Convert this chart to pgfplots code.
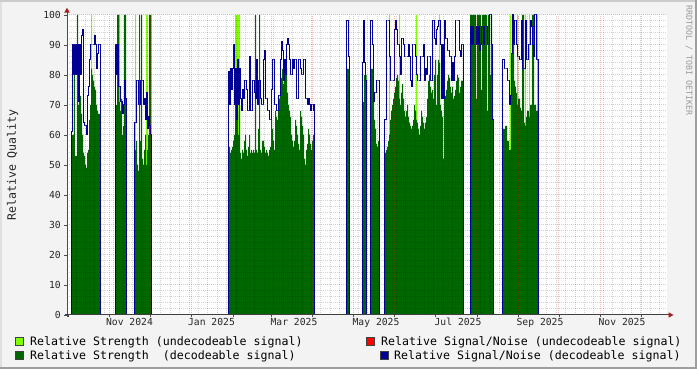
\documentclass[border=0pt]{standalone}
\usepackage{fontspec}
\setmainfont{DejaVu Sans Mono}
\usepackage{pgfplots}
\usepackage{pgfplotstable}
\pgfplotsset{compat=1.18}
\definecolor{lgreen}{RGB}{128,255,0}
\definecolor{dgreen}{RGB}{0,102,0}
\definecolor{snblue}{RGB}{0,0,153}
\definecolor{snred}{RGB}{255,0,0}
\definecolor{bgc}{RGB}{243,243,243}
\definecolor{arrowred}{RGB}{165,30,30}

% x = pixel column offset from the left edge of the plot (1 column ~ 0.74 day)
\pgfplotstableread{
x g b
0 0 0
4.7 0 61
5 60 61
6 60 90
7 80 80
8 53 90
9 53 80
10 100 90
11 70 71
12 73 90
13 73 80
14 67 93
15 60 95
16 54 64
17 53 63
18 50 63
19 49 60
20 54 73
21 55 76
22 65 85
23 70 90
24 82 90
25 80 90
26 78 90
27 76 93
28 75 90
29 70 82
30 68 87
31 67 90
32 67 90
33.7 0 0
48 65 90
49 70 80
50 100 90
51 100 76
52 71 76
53 68 71
54 72 71
55 60 67
56 63 70
57 100 78
58 100 72
59 55 68
59.7 0 0
67.3 52 64
68 55 64
69 58 78
70 50 78
71 48 70
72 100 70
73 58 78
74 100 78
75 52 78
76 50 70
77 55 72
78 60 65
79 50 74
80 55 62
81 60 66
82 100 63
83 100 60
84.3 0 0
161.3 55 81
162 56 70
163 54 82
164 55 75
165 56 82
166 58 90
167 60 70
168 72 82
169 80 65
170 68 85
171 60 70
172 70 82
173 54 72
174 52 68
175 55 75
176 54 72
177 58 78
178 60 78
179 55 75
180 53 68
181 56 68
182 60 86
183 54 68
184 55 68
185 54 78
186 55 78
187 54 74
188 100 72
189 55 85
190 54 70
191 62 78
192 100 78
193 55 72
194 54 70
195 58 70
196 58 85
197 56 88
198 54 72
199 55 72
200 54 68
201 53 68
202 55 65
203 56 65
204 65 75
205 62 85
206 58 85
207 55 70
208 68 70
209 66 68
210 65 68
211 73 73
212 72 73
213 74 85
214 79 91
215 82 88
216 77 78
217 83 85
218 85 80
219 82 90
220 74 92
221 70 90
222 68 85
223 66 80
224 60 80
225 58 85
226 56 82
227 58 85
228 65 85
229 63 72
230 60 72
231 57 85
232 55 85
233 68 82
234 66 80
235 63 80
236 60 85
237 52 85
238 50 72
239 55 72
240 57 70
241 62 72
242 60 70
243 57 68
244 55 70
245 58 70
246 60 68
247 58 70
247.3 0 0
279.7 82 98
281 82 86
282 0 0
295.3 71 84
296 71 98
297 80 84
298 80 78
299 80 72
299.7 0 0
303.7 82 98
305 82 90
306 71 71
307 65 74
308 62 74
309 57 78
310 56 78
311 58 78
312 0 0
317.3 54 65
319 55 98
320 56 98
321 58 98
322 60 86
323 65 78
324 68 78
325 70 78
326 72 78
327 74 95
328 76 98
329 79 95
330 80 90
331 78 90
332 72 86
333 70 80
334 74 92
335 77 92
336 72 90
337 68 86
338 66 86
339 68 86
340 70 86
341 66 90
342 64 86
343 63 78
344 62 76
345 63 90
346 65 90
347 70 90
348 68 86
349 65 80
350 64 78
351 62 78
352 60 78
353 63 86
354 68 86
355 66 86
356 64 90
357 62 78
358 64 82
359 66 80
360 72 86
361 78 86
362 80 86
363 76 78
364 74 78
365 75 98
366 72 98
367 80 92
368 85 90
369 70 95
370 80 96
371 85 98
372 84 98
373 70 90
374 68 72
375 66 90
376 52 72
377 72 98
378 73 92
379 75 92
380 78 88
381 80 88
382 79 86
383 76 86
384 74 78
385 76 84
386 72 78
387 73 86
388 75 98
389 78 98
390 80 98
391 79 98
392 74 88
393 76 86
394 78 90
395 78 90
396.3 0 0
403 100 96
404 100 90
405 100 96
406 100 90
407 100 90
408 100 90
409 72 96
410 100 90
411 100 96
412 100 88
413 100 90
414 75 96
415 100 96
416 100 90
417 100 96
418 100 96
419 100 96
420 68 90
421 100 90
422 100 100
423 80 100
424 100 90
425 66 65
426 0 0
435.3 62 85
437 62 82
438 63 82
439 63 82
440 58 78
441 58 78
442 55 70
443 55 73
444 83 87
445 100 100
446 100 90
447 78 98
448 76 98
449 74 90
450 70 86
451 72 86
452 72 85
453 69 85
454 68 98
455 100 82
456 100 82
457 64 82
458 63 98
459 66 85
460 68 85
461 68 90
462 66 90
463 70 98
464 70 96
465 100 90
466 100 86
467 70 100
468 70 100
469 68 85
470 68 85
471.3 0 0
600 0 0
}\rrd

\pgfplotstableread{
x lg
0 0
24 100
25 0
52 100
53 0
68 100
69 0
79 100
81 0
168 100
173 0
322 100
323 0
332 100
333 0
349 100
350 0
372 100
373 0
443 100
444 0
450 100
451 0
458 100
459 0
462 100
463 0
470 100
471 0
600 0
}\lgt

\begin{document}
\begin{tikzpicture}[x=1pt,y=1pt]
\useasboundingbox (0,0) rectangle (697,369);
\fill[bgc] (0,0) rectangle (697,369);
\fill[black!12] (0,0) rectangle (2,369);
\fill[black!20] (0,366.5) rectangle (697,369);
\fill[black!38] (695,0) rectangle (697,369);
\fill[black!38] (0,0) rectangle (697,2);

\begin{axis}[
  at={(67pt,54pt)}, anchor=south west,
  width=600pt, height=300pt, scale only axis,
  xmin=0, xmax=600, ymin=0, ymax=100,
  axis on top,
  axis line style={draw=none},
  axis background/.style={fill=white},
  xtick={1.0,42.7,83.05,124.7,166.4,204.1,245.8,286.1,327.8,368.2,409.9,451.6,491.9,533.6,574.0},
  xticklabels={},
  minor xtick={9.07,18.485,...,600},
  extra x ticks={62.5,144.5,227,309,391,473,555},
  extra x tick labels={Nov 2024,Jan 2025,Mar 2025,May 2025,Jul 2025,Sep 2025,Nov 2025},
  extra x tick style={grid=none, major tick length=0pt},
  ytick={0,10,...,100},
  minor y tick num=4,
  xmajorgrids, ymajorgrids, xminorgrids, yminorgrids,
  major grid style={draw=red, opacity=0.28, line width=1pt, dash pattern=on 1pt off 1pt},
  minor grid style={draw=black, opacity=0.17, line width=1pt, dash pattern=on 1pt off 1pt},
  xtick pos=bottom, ytick pos=left,
  tick align=outside,
  major tick length=2.5pt, minor tick length=0pt,
  tick style={draw=black!70, line width=0.8pt},
  tick label style={font=\fontsize{9.7}{11}\selectfont, inner sep=0pt, text=black!85},
  /pgf/number format/assume math mode=true,
  xticklabel style={yshift=-3pt},
  yticklabel style={xshift=-3.5pt},
]
\addplot[const plot, fill=lgreen, draw=none] table[x=x,y=lg]{\lgt} \closedcycle;
\addplot[const plot, fill=dgreen, draw=none] table[x=x,y=g]{\rrd} \closedcycle;
\addplot[const plot, draw=snblue, line width=1pt] table[x=x,y=b]{\rrd};
\end{axis}

% axis lines and arrows
\draw[black!70, line width=1pt] (67,52) -- (67,357);
\draw[black!75, line width=1pt] (64.5,54) -- (669,54);
\fill[arrowred] (64.2,356.3) -- (69.8,356.3) -- (67,361.2) -- cycle;
\fill[arrowred] (668.5,51.3) -- (668.5,56.7) -- (673.6,54) -- cycle;

% y label and watermark
\node[rotate=90, anchor=base, inner sep=0pt, font=\fontsize{11.6}{13}\selectfont, text=black!85] at (16,204) {Relative Quality};
\node[rotate=-90, anchor=west, inner sep=0pt, font=\fontsize{8.3}{9}\selectfont, text=black!40] at (689,364) {RRDTOOL / TOBI OETIKER};

% legend
\begin{scope}[font=\fontsize{11.6}{13}\selectfont]
\filldraw[fill=lgreen, draw=black!75, line width=0.8pt] (15.5,23.5) rectangle (23.5,32);
\node[anchor=base west, inner sep=0pt] at (30,23.5) {Relative Strength (undecodeable signal)};
\filldraw[fill=dgreen, draw=black!75, line width=0.8pt] (15.5,9.5) rectangle (23.5,18);
\node[anchor=base west, inner sep=0pt] at (30,9.5) {Relative Strength\ \ (decodeable signal)};
\filldraw[fill=snred, draw=black!75, line width=0.8pt] (366,23.5) rectangle (374,32);
\node[anchor=base west, inner sep=0pt] at (381,23.5) {Relative Signal/Noise (undecodeable signal)};
\filldraw[fill=snblue, draw=black!75, line width=0.8pt] (380,9.5) rectangle (388,18);
\node[anchor=base west, inner sep=0pt] at (394,9.5) {Relative Signal/Noise (decodeable signal)};
\end{scope}
\end{tikzpicture}
\end{document}
